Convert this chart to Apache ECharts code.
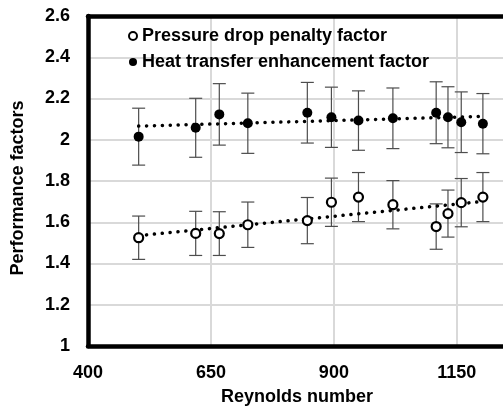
<!DOCTYPE html>
<html>
<head>
<meta charset="utf-8">
<script src="https://cdn.jsdelivr.net/npm/echarts@6/dist/echarts.min.js"></script>
<style>html,body{margin:0;padding:0;background:#fff}#c{width:503px;height:407px}</style>
</head>
<body>
<div id="c"></div>
<script>
// Data
const reynolds = [503, 619, 667, 725, 846, 895, 950, 1020, 1108, 1132, 1159, 1203];
const pressureDrop = [1.525, 1.546, 1.545, 1.588, 1.608, 1.697, 1.722, 1.685, 1.579, 1.642, 1.695, 1.722];
const pressureErr = [0.105, 0.107, 0.106, 0.110, 0.112, 0.117, 0.119, 0.117, 0.110, 0.114, 0.117, 0.119];
const heatTransfer = [2.015, 2.058, 2.123, 2.080, 2.131, 2.109, 2.093, 2.104, 2.131, 2.109, 2.085, 2.078];
const heatErr = [0.138, 0.143, 0.149, 0.146, 0.147, 0.146, 0.144, 0.147, 0.150, 0.148, 0.147, 0.146];
const xTicks = [400, 650, 900, 1150];
const yTicks = [1, 1.2, 1.4, 1.6, 1.8, 2, 2.2, 2.4, 2.6];
const seriesNames = ['Pressure drop penalty factor', 'Heat transfer enhancement factor'];
const xTitle = 'Reynolds number';
const yTitle = 'Performance factors';

const FONT = 'Liberation Sans';
const FS = 18;

function linearFit(xs, ys) {
  const n = xs.length;
  const mx = xs.reduce((a, b) => a + b, 0) / n;
  const my = ys.reduce((a, b) => a + b, 0) / n;
  let sxy = 0, sxx = 0;
  for (let i = 0; i < n; i++) { sxy += (xs[i] - mx) * (ys[i] - my); sxx += (xs[i] - mx) ** 2; }
  const b = sxy / sxx, a = my - b * mx;
  const x0 = Math.min(...xs), x1 = Math.max(...xs);
  return [[x0, a + b * x0], [x1, a + b * x1]];
}

function errData(ys, es) {
  return reynolds.map((x, i) => [x, ys[i] - es[i], ys[i] + es[i]]);
}

function errRender(params, api) {
  const x = api.value(0);
  const lo = api.coord([x, api.value(1)]);
  const hi = api.coord([x, api.value(2)]);
  const hw = 6.5;
  const style = { stroke: '#4d4d4d', lineWidth: 1.2 };
  return {
    type: 'group',
    children: [
      { type: 'line', shape: { x1: lo[0], y1: lo[1], x2: hi[0], y2: hi[1] }, style },
      { type: 'line', shape: { x1: lo[0] - hw, y1: lo[1], x2: lo[0] + hw, y2: lo[1] }, style },
      { type: 'line', shape: { x1: hi[0] - hw, y1: hi[1], x2: hi[0] + hw, y2: hi[1] }, style }
    ]
  };
}

const dotted = { color: '#000', width: 3.5, type: [0.1, 7.8], cap: 'round' };
const border = { show: true, lineStyle: { color: '#000', width: 4.5 } };
const labelText = { fontFamily: FONT, fontWeight: 'bold', fontSize: FS, color: '#000' };

const chart = echarts.init(document.getElementById('c'), null, { renderer: 'canvas' });
chart.setOption({
  animation: false,
  textStyle: { fontFamily: FONT },
  grid: { left: 88, top: 16, width: 418, height: 330, show: false, containLabel: false, outerBoundsMode: 'none' },
  legend: {
    data: seriesNames,
    orient: 'vertical',
    left: 123, top: 22,
    itemWidth: 8, itemHeight: 8, itemGap: 8,
    textStyle: labelText
  },
  xAxis: [{
    type: 'value', min: xTicks[0], max: 1250, interval: 250,
    name: xTitle, nameLocation: 'middle', nameGap: 42,
    nameTextStyle: labelText,
    axisLine: border, axisTick: { show: false },
    axisLabel: Object.assign({ showMaxLabel: false, margin: 18, formatter: v => String(v) }, labelText),
    splitLine: { show: true, lineStyle: { color: '#d9d9d9', width: 2 } }
  }, {
    type: 'value', position: 'top', min: xTicks[0], max: 1250, interval: 250,
    axisLine: border, axisTick: { show: false }, axisLabel: { show: false }, splitLine: { show: false }
  }],
  yAxis: {
    type: 'value', min: yTicks[0], max: yTicks[yTicks.length - 1], interval: 0.2,
    name: yTitle, nameLocation: 'middle', nameGap: 61,
    nameTextStyle: Object.assign({ padding: [0, 14, 0, 0] }, labelText),
    axisLine: border, axisTick: { show: false },
    axisLabel: Object.assign({ margin: 18 }, labelText),
    splitLine: { show: true, lineStyle: { color: '#d9d9d9', width: 2 } }
  },
  series: [
    { type: 'custom', name: 'errP', renderItem: errRender, data: errData(pressureDrop, pressureErr), encode: { x: 0, y: [1, 2] }, z: 1, silent: true },
    { type: 'custom', name: 'errH', renderItem: errRender, data: errData(heatTransfer, heatErr), encode: { x: 0, y: [1, 2] }, z: 1, silent: true },
    { type: 'line', name: 'trendP', data: linearFit(reynolds, pressureDrop), showSymbol: false, lineStyle: dotted, z: 3, silent: true },
    { type: 'line', name: 'trendH', data: linearFit(reynolds, heatTransfer), showSymbol: false, lineStyle: dotted, z: 3, silent: true },
    {
      type: 'scatter', name: seriesNames[0], data: reynolds.map((x, i) => [x, pressureDrop[i]]),
      symbol: 'circle', symbolSize: 9, z: 4,
      itemStyle: { color: '#fff', borderColor: '#000', borderWidth: 2.2, opacity: 1 }
    },
    {
      type: 'scatter', name: seriesNames[1], data: reynolds.map((x, i) => [x, heatTransfer[i]]),
      symbol: 'circle', symbolSize: 10, z: 4,
      itemStyle: { color: '#000', opacity: 1 }
    }
  ]
});
</script>
</body>
</html>
